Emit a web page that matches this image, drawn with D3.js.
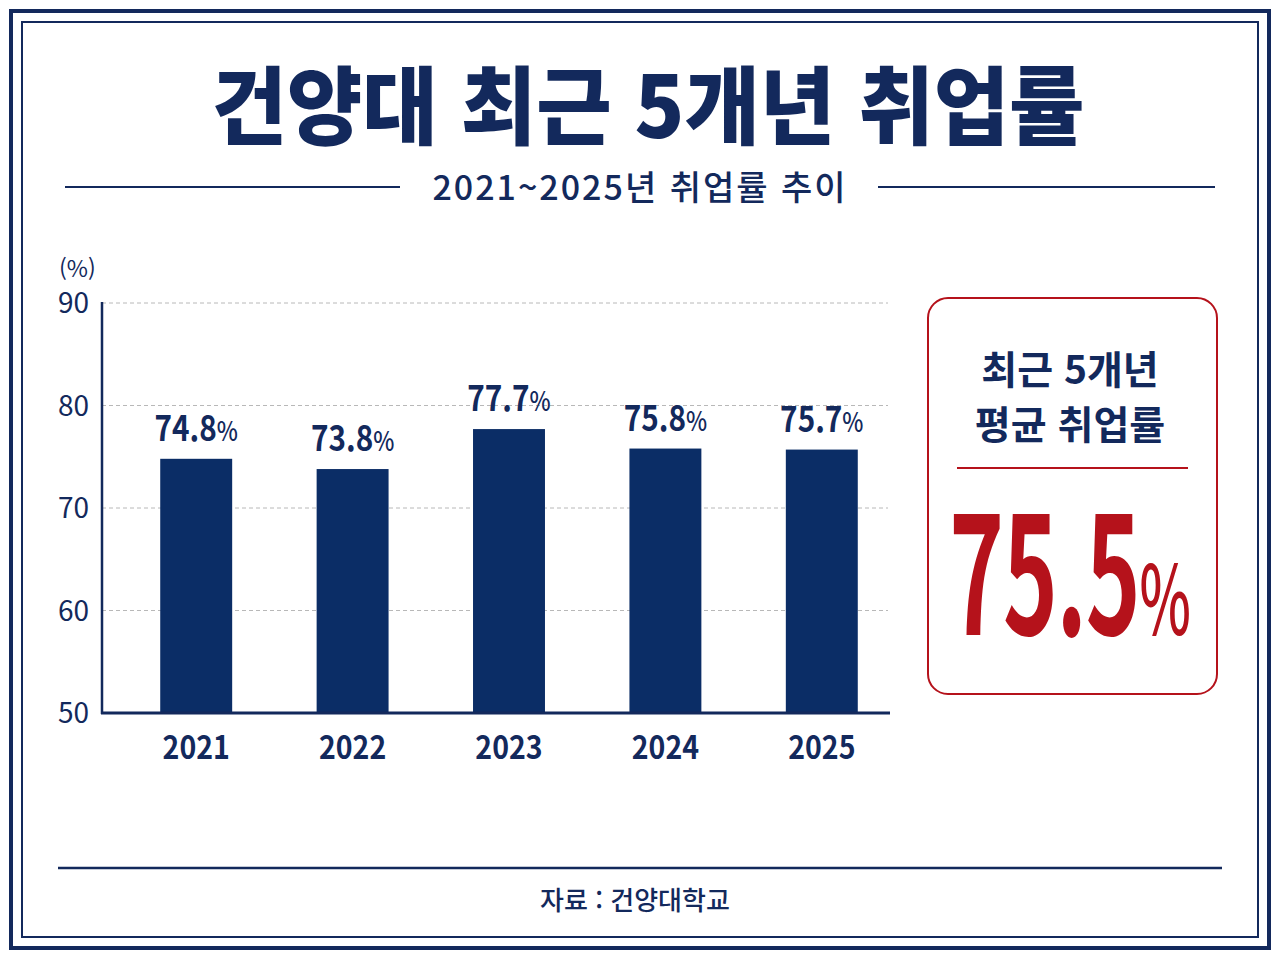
<!DOCTYPE html>
<html lang="ko">
<head>
<meta charset="utf-8">
<script src="https://cdn.jsdelivr.net/npm/d3@7"></script>
<style>
  html, body { margin: 0; padding: 0; background: #fff; }
  svg { display: block; font-family: "Noto Sans CJK KR", "Noto Sans", sans-serif; }
</style>
</head>
<body>
<svg id="chart" width="1280" height="960"></svg>
<script>
'use strict';

// chart data
var years = ["2021", "2022", "2023", "2024", "2025"];
var rates = [74.8, 73.8, 77.7, 75.8, 75.7];
var yTicks = [50, 60, 70, 80, 90];
var average = 75.5;

var navy = "#13295c";
var barColor = "#0b2d66";
var red = "#b5121b";

var svg = d3.select("#chart");

// double frame
svg.append("rect").attr("x", 11).attr("y", 11).attr("width", 1258).attr("height", 937)
  .attr("fill", "none").attr("stroke", navy).attr("stroke-width", 4);
svg.append("rect").attr("x", 22).attr("y", 22).attr("width", 1236).attr("height", 915)
  .attr("fill", "none").attr("stroke", navy).attr("stroke-width", 2);

// title
svg.append("text").attr("transform", "translate(648,138) scale(1,1.04)").attr("text-anchor", "middle")
  .attr("font-size", 82).attr("font-weight", 900).attr("fill", navy)
  .text("건양대 최근 5개년 취업률");

// subtitle with side rules
svg.append("text").attr("x", 640).attr("y", 200).attr("text-anchor", "middle")
  .attr("font-size", 34).attr("font-weight", 500).attr("letter-spacing", 2).attr("fill", navy)
  .text("2021~2025년 취업률 추이");
svg.append("line").attr("x1", 65).attr("x2", 400).attr("y1", 187).attr("y2", 187)
  .attr("stroke", navy).attr("stroke-width", 2);
svg.append("line").attr("x1", 878).attr("x2", 1215).attr("y1", 187).attr("y2", 187)
  .attr("stroke", navy).attr("stroke-width", 2);

// scales
var x = d3.scaleBand().domain(years).range([118, 900]).paddingInner(0.54).paddingOuter(0.27);
var y = d3.scaleLinear().domain([50, 90]).range([713, 303]);

var plotLeft = 102, plotRight = 890;

// grid
svg.append("g").selectAll("line").data(yTicks.filter(function (d) { return d > 50; })).enter()
  .append("line")
  .attr("x1", plotLeft).attr("x2", plotRight - 2)
  .attr("y1", function (d) { return y(d); }).attr("y2", function (d) { return y(d); })
  .attr("stroke", "#b8b8b8").attr("stroke-width", 1).attr("stroke-dasharray", "4,3");

// y tick labels
svg.append("g").selectAll("text").data(yTicks).enter().append("text")
  .attr("x", 89).attr("y", function (d) { return y(d) + 10; })
  .attr("text-anchor", "end").attr("font-size", 28).attr("fill", navy)
  .text(function (d) { return d; });

svg.append("text").attr("x", 59).attr("y", 277).attr("font-size", 23).attr("fill", navy).text("(%)");

// bars
svg.append("g").selectAll("rect").data(rates).enter().append("rect")
  .attr("x", function (d, i) { return x(years[i]); })
  .attr("y", function (d) { return y(d); })
  .attr("width", x.bandwidth())
  .attr("height", function (d) { return y(50) - y(d); })
  .attr("fill", barColor);

// axes lines
svg.append("line").attr("x1", plotLeft).attr("x2", plotLeft).attr("y1", 302).attr("y2", y(50) + 1)
  .attr("stroke", navy).attr("stroke-width", 2.5);
svg.append("line").attr("x1", plotLeft - 1).attr("x2", plotRight).attr("y1", y(50)).attr("y2", y(50))
  .attr("stroke", navy).attr("stroke-width", 3);

// value labels
var vl = svg.append("g").selectAll("text").data(rates).enter().append("text")
  .attr("transform", function (d, i) {
    return "translate(" + (x(years[i]) + x.bandwidth() / 2) + "," + (y(d) - 18) + ") scale(0.9,1.08)";
  })
  .attr("text-anchor", "middle").attr("fill", navy).attr("font-weight", 700);
vl.append("tspan").attr("font-size", 33).text(function (d) { return d.toFixed(1); });
vl.append("tspan").attr("font-size", 25).attr("font-weight", 500).text("%");

// year labels
svg.append("g").selectAll("text").data(years).enter().append("text")
  .attr("transform", function (d) { return "translate(" + (x(d) + x.bandwidth() / 2) + ",759) scale(0.92,1.05)"; })
  .attr("text-anchor", "middle")
  .attr("font-size", 31).attr("font-weight", 700).attr("fill", navy)
  .text(function (d) { return d; });

// average box
svg.append("rect").attr("x", 928).attr("y", 298).attr("width", 289).attr("height", 396)
  .attr("rx", 20).attr("fill", "#fff").attr("stroke", red).attr("stroke-width", 2);
svg.append("text").attr("x", 1070).attr("y", 384).attr("text-anchor", "middle")
  .attr("font-size", 39).attr("font-weight", 700).attr("fill", navy).text("최근 5개년");
svg.append("text").attr("x", 1070).attr("y", 439).attr("text-anchor", "middle")
  .attr("font-size", 39).attr("font-weight", 700).attr("fill", navy).text("평균 취업률");
svg.append("line").attr("x1", 957).attr("x2", 1188).attr("y1", 468).attr("y2", 468)
  .attr("stroke", red).attr("stroke-width", 2);

var avg = svg.append("text").attr("transform", "translate(1070,635) scale(0.57,1)")
  .attr("text-anchor", "middle").attr("fill", red).attr("font-weight", 700);
avg.append("tspan").attr("font-size", 163).attr("letter-spacing", -2).text(average.toFixed(1));
avg.append("tspan").attr("font-size", 96).attr("font-weight", 500).text("%");

// footer
svg.append("line").attr("x1", 58).attr("x2", 1222).attr("y1", 868).attr("y2", 868)
  .attr("stroke", navy).attr("stroke-width", 2.5);
svg.append("text").attr("x", 635).attr("y", 910).attr("text-anchor", "middle")
  .attr("font-size", 26).attr("font-weight", 500).attr("fill", navy).text("자료 : 건양대학교");
</script>
</body>
</html>
